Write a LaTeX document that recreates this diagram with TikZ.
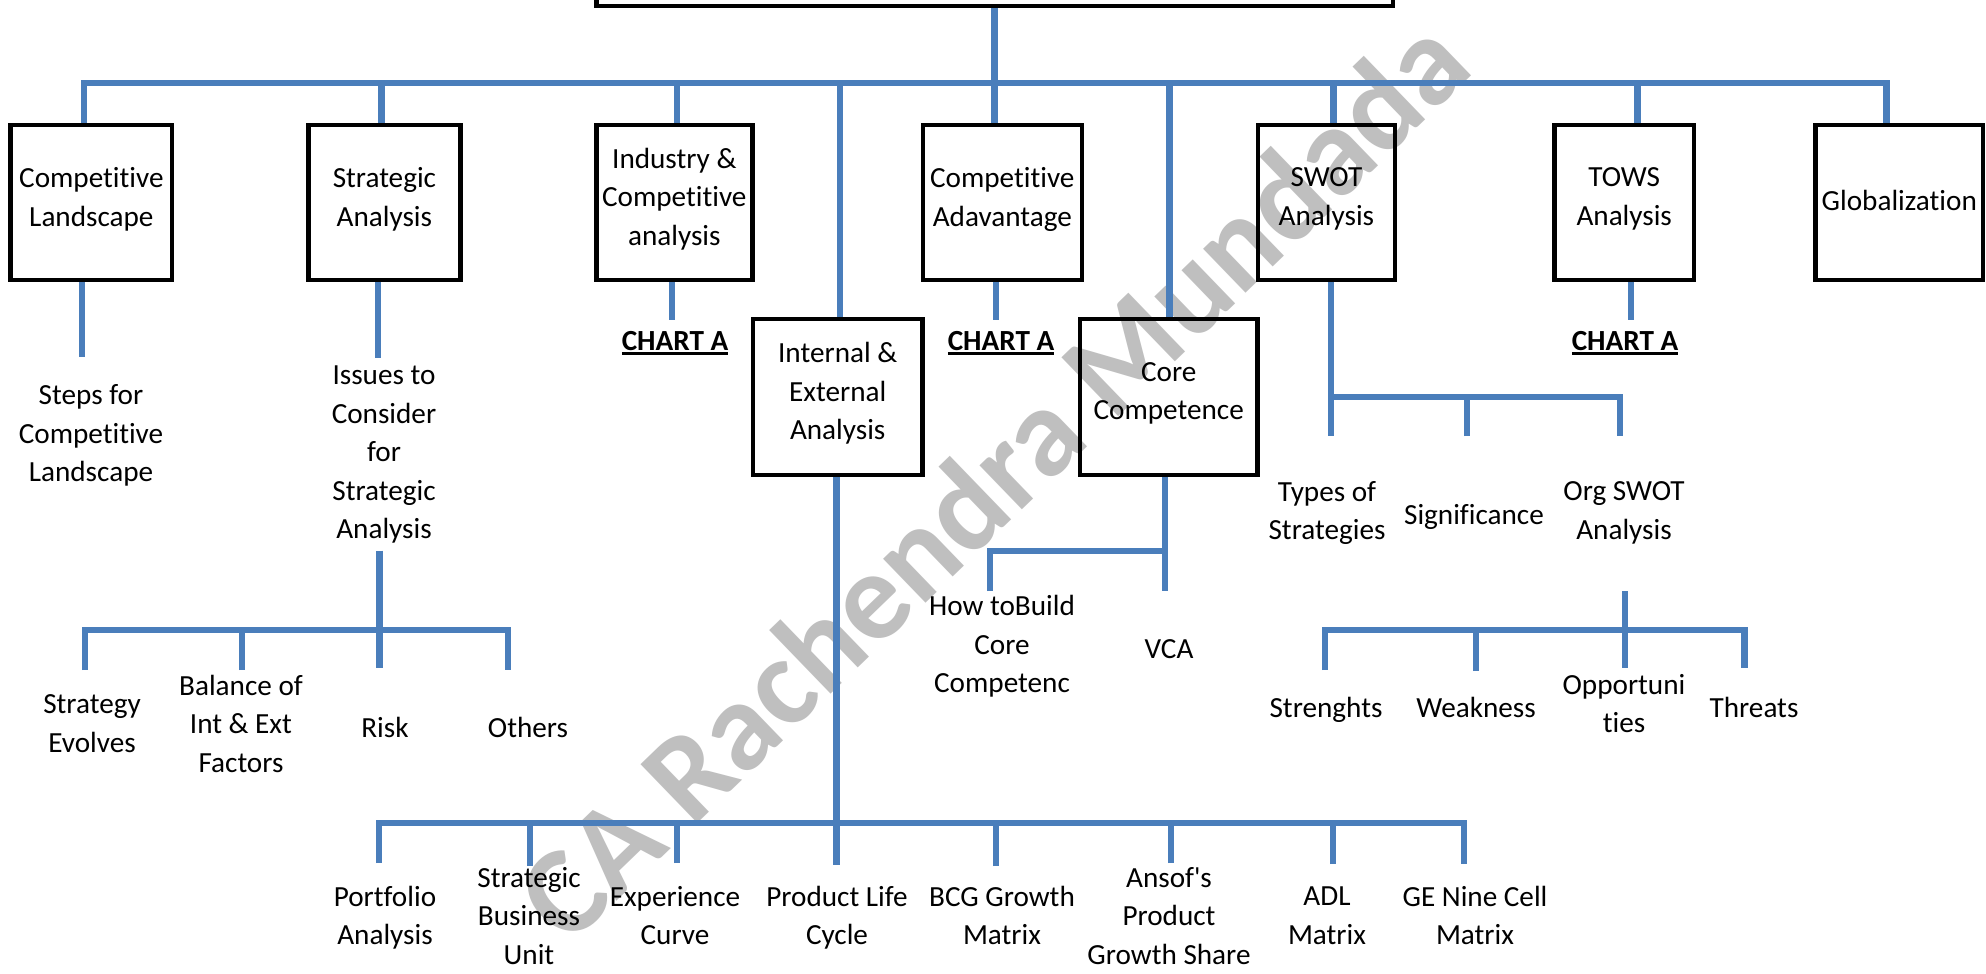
\documentclass[tikz,border=0pt]{standalone}
\usepackage{fontspec}
\setmainfont{Carlito}[Ligatures={NoCommon}]

\definecolor{lineblue}{RGB}{74,126,187}
\newcommand{\chartul}[1]{\setbox0=\hbox{\bfseries #1}\rlap{\rule[-5pt]{\wd0}{3pt}}\box0}

\begin{document}
\begin{tikzpicture}[x=1pt,y=-1pt,font=\fontsize{29.2}{38.5}\selectfont]
	\useasboundingbox[fill=white] (0,0) rectangle (1986,974);

	% define the styles of the boxes, the loose labels and the blue lines
	\tikzstyle{topic box} = [draw=black, line width=4.5pt, minimum width=#1, minimum height=155pt, inner sep=0pt, align=center, execute at begin node=\strut, execute at end node=\strut]
	\tikzstyle{leaf text} = [inner sep=0pt, align=center, execute at begin node=\strut, execute at end node=\strut]
	\tikzstyle{blue line} = [draw=lineblue, line width=6.6pt]

	\node (stamp) at (992,478) [rotate=44, text=black!25, font=\fontsize{126}{134}\selectfont\bfseries] {CA Rachendra Mundada};

	\node (root) at (994.75,-54) [topic box=796.5pt, minimum height=120pt] {};
	\node (cl) at (91.4,202.5) [topic box=161.4pt] {Competitive\\Landscape};
	\node (sa) at (384.4,202.5) [topic box=152.2pt] {Strategic\\Analysis};
	\node (ica) at (674.3,202.5) [topic box=156.1pt] {Industry \&\\Competitive\\analysis};
	\node (ca) at (1002.3,202.5) [topic box=159pt] {Competitive\\Adavantage};
	\node (swot) at (1326.4,202.5) [topic box=137.2pt] {SWOT\\Analysis};
	\node (tows) at (1624.2,202.5) [topic box=139.3pt] {TOWS\\Analysis};
	\node (glob) at (1899.3,202.5) [topic box=167.5pt] {Globalization};
	\node (ie) at (837.7,397) [topic box=169.4pt, minimum height=156pt] {Internal \&\\External\\Analysis};
	\node (cc) at (1168.7,397) [topic box=177.4pt, minimum height=156pt] {Core\\Competence};

	\node (chartI) at (675,342.3) [leaf text] {\chartul{CHART A}};
	\node (chartC) at (1001,342.3) [leaf text] {\chartul{CHART A}};
	\node (chartT) at (1625,342.3) [leaf text] {\chartul{CHART A}};

	\node (steps) at (91,438.8) [leaf text] {Steps for\\Competitive\\Landscape};
	\node (issues) at (384,458.3) [leaf text] {Issues to\\Consider\\for\\Strategic\\Analysis};
	\node (evolve) at (92,729.5) [leaf text] {Strategy\\Evolves};
	\node (balance) at (241,729.5) [leaf text] {Balance of\\Int \& Ext\\Factors};
	\node (risk) at (385,729.5) [leaf text] {Risk};
	\node (others) at (528,729.5) [leaf text] {Others};

	\node (build) at (1002,649.8) [leaf text] {How toBuild\\Core\\Competenc};
	\node (vca) at (1169,650.3) [leaf text] {VCA};
	\node (types) at (1327,516.3) [leaf text] {Types of\\Strategies};
	\node (signif) at (1474,516.3) [leaf text] {Significance};
	\node (orgswot) at (1624,516.3) [leaf text] {Org SWOT\\Analysis};
	\node (strength) at (1326,709.3) [leaf text] {Strenghts};
	\node (weak) at (1476,709.3) [leaf text] {Weakness};
	\node (opp) at (1624,709.3) [leaf text] {Opportuni\\ties};
	\node (threat) at (1754,709.3) [leaf text] {Threats};

	\node (port) at (385,921.3) [leaf text] {Portfolio\\Analysis};
	\node (sbu) at (529,921.3) [leaf text] {Strategic\\Business\\Unit};
	\node (exp) at (675,921.3) [leaf text] {Experience\\Curve};
	\node (plc) at (837,921.3) [leaf text] {Product Life\\Cycle};
	\node (bcg) at (1002,921.3) [leaf text] {BCG Growth\\Matrix};
	\node (ansoff) at (1169,921.3) [leaf text] {Ansof\textquotesingle s\\Product\\Growth Share};
	\node (adl) at (1327,921.3) [leaf text] {ADL\\Matrix};
	\node (ge) at (1475,921.3) [leaf text] {GE Nine Cell\\Matrix};

	\coordinate (busL) at (84,83);
	\coordinate (busR) at (1886.5,83);
	\draw[blue line] (busL |- cl.north) |- (busR) -- (busR |- glob.north);
	\draw[blue line] (root.south) -- (root.south |- ca.north);
	\coordinate (jsa) at (381.5,83);
	\draw[blue line] (jsa) -- (jsa |- sa.north);
	\coordinate (jica) at (677,83);
	\draw[blue line] (jica) -- (jica |- ica.north);
	\coordinate (jie) at (840,83);
	\draw[blue line] (jie) -- (jie |- ie.north);
	\coordinate (jcc) at (1169.5,83);
	\draw[blue line] (jcc) -- (jcc |- cc.north);
	\coordinate (jswot) at (1333.5,83);
	\draw[blue line] (jswot) -- (jswot |- swot.north);
	\coordinate (jtows) at (1637.5,83);
	\draw[blue line] (jtows) -- (jtows |- tows.north);

	\coordinate (clend) at (82,357);
	\draw[blue line] (clend |- cl.south) -- (clend);
	\coordinate (saend) at (378,358);
	\draw[blue line] (saend |- sa.south) -- (saend);
	\coordinate (icaend) at (672,320);
	\draw[blue line] (icaend |- ica.south) -- (icaend);
	\coordinate (caend) at (996,320);
	\draw[blue line] (caend |- ca.south) -- (caend);
	\coordinate (towsend) at (1631,320);
	\draw[blue line] (towsend |- tows.south) -- (towsend);

	\coordinate (riskend) at (379.5,668);
	\coordinate (sabus) at (379.5,630);
	\coordinate (evend) at (85,670);
	\coordinate (baend) at (242,670);
	\coordinate (otend) at (508,670);
	\draw[blue line] (issues.south -| riskend) -- (riskend);
	\draw[blue line] (evend) |- (otend |- sabus) -- (otend);
	\draw[blue line] (baend) -- (baend |- sabus);

	\coordinate (vcaend) at (1165,591);
	\coordinate (buend) at (990,591);
	\coordinate (ccbus) at (1165,551);
	\draw[blue line] (vcaend |- cc.south) -- (vcaend);
	\draw[blue line] (buend) |- (ccbus);

	\coordinate (tyend) at (1331,436);
	\coordinate (swbus) at (1331,397);
	\coordinate (siend) at (1467,436);
	\coordinate (ogend) at (1620,436);
	\draw[blue line] (tyend |- swot.south) -- (tyend);
	\draw[blue line] (swbus) -| (ogend);
	\draw[blue line] (siend) -- (siend |- swbus);

	\coordinate (ogtop) at (1625,591);
	\coordinate (opend) at (1625,668);
	\coordinate (ogbus) at (1625,630);
	\coordinate (stend) at (1325,670);
	\coordinate (weend) at (1476,671);
	\coordinate (thend) at (1744.5,668);
	\draw[blue line] (ogtop) -- (opend);
	\draw[blue line] (stend) |- (thend |- ogbus) -- (thend);
	\draw[blue line] (weend) -- (weend |- ogbus);

	\coordinate (plcend) at (836.5,865);
	\coordinate (iebus) at (836.5,823);
	\coordinate (poend) at (379,863);
	\coordinate (geend) at (1464,864);
	\draw[blue line] (plcend |- ie.south) -- (plcend);
	\draw[blue line] (poend) |- (geend |- iebus) -- (geend);
	\coordinate (sbend) at (530,866);
	\draw[blue line] (sbend) -- (sbend |- iebus);
	\coordinate (exend) at (677,863);
	\draw[blue line] (exend) -- (exend |- iebus);
	\coordinate (bcend) at (996,866);
	\draw[blue line] (bcend) -- (bcend |- iebus);
	\coordinate (anend) at (1171,863);
	\draw[blue line] (anend) -- (anend |- iebus);
	\coordinate (adend) at (1333,864);
	\draw[blue line] (adend) -- (adend |- iebus);
\end{tikzpicture}
\end{document}
